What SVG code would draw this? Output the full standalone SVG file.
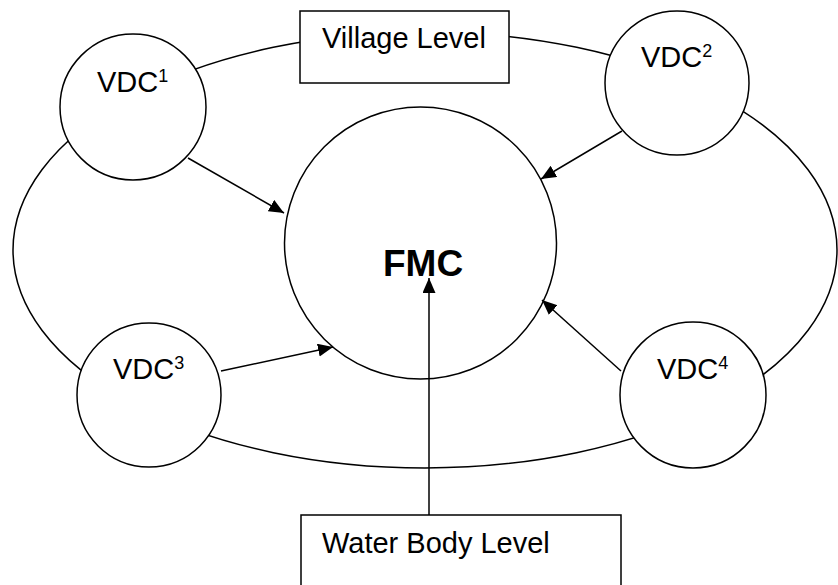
<svg xmlns="http://www.w3.org/2000/svg" width="838" height="585" viewBox="0 0 838 585">
  <style>
    .shape { fill: #ffffff; stroke: #000000; stroke-width: 1.5; }
    .ring { fill: none; stroke: #000000; stroke-width: 1.5; }
    .conn { fill: none; stroke: #000000; stroke-width: 1.5; marker-end: url(#arrow); }
    .lbl { font-family: "Liberation Sans", Arial, sans-serif; font-size: 29px; fill: #000000; }
    .sup { font-size: 18px; }
    .big { font-family: "Liberation Sans", Arial, sans-serif; font-size: 37px; font-weight: bold; fill: #000000; }
  </style>
  <defs>
    <marker id="arrow" markerUnits="userSpaceOnUse" markerWidth="16" markerHeight="14" refX="15" refY="6.5" orient="auto">
      <path d="M0,0 L15,6.5 L0,13 z" fill="#000000"/>
    </marker>
  </defs>
  <rect x="0" y="0" width="838" height="585" fill="#ffffff"/>

  <g id="village-ring">
    <ellipse class="ring" cx="425" cy="250" rx="412" ry="218"/>
  </g>

  <g id="village-level">
    <rect class="shape" x="300" y="11" width="209" height="72"/>
    <text class="lbl" x="322" y="48">Village Level</text>
  </g>

  <g id="water-body-level">
    <rect class="shape" x="301" y="515" width="320" height="90"/>
    <text class="lbl" x="322" y="553">Water Body Level</text>
  </g>

  <g id="fmc">
    <circle class="shape" cx="420.5" cy="243" r="136"/>
  </g>

  <g id="vdc1">
    <circle class="shape" cx="133" cy="107" r="73"/>
    <text class="lbl" x="97" y="92">VDC<tspan class="sup" dy="-10">1</tspan></text>
  </g>

  <g id="vdc2">
    <circle class="shape" cx="677" cy="83" r="72"/>
    <text class="lbl" x="641" y="67">VDC<tspan class="sup" dy="-10">2</tspan></text>
  </g>

  <g id="vdc3">
    <circle class="shape" cx="149" cy="395" r="72"/>
    <text class="lbl" x="113" y="379">VDC<tspan class="sup" dy="-10">3</tspan></text>
  </g>

  <g id="vdc4">
    <circle class="shape" cx="693" cy="395" r="73"/>
    <text class="lbl" x="657" y="379">VDC<tspan class="sup" dy="-10">4</tspan></text>
  </g>

  <g id="connectors">
    <line class="conn" x1="188" y1="158" x2="284" y2="213"/>
    <line class="conn" x1="622" y1="131" x2="541" y2="179"/>
    <line class="conn" x1="221" y1="371" x2="333" y2="347"/>
    <line class="conn" x1="621" y1="371" x2="542" y2="300"/>
    <line class="conn" x1="429" y1="515" x2="429" y2="278"/>
  </g>

  <g id="fmc-label">
    <text class="big" x="383" y="276">FMC</text>
  </g>
</svg>
